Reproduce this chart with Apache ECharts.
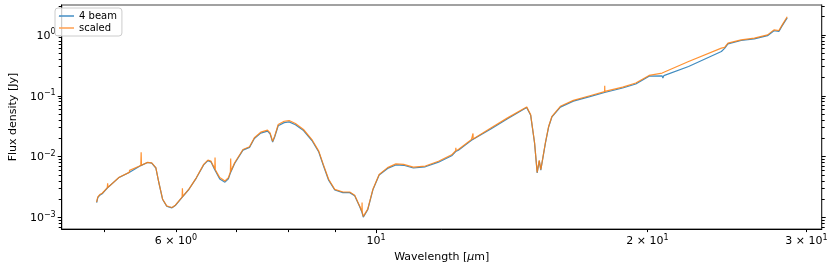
<!DOCTYPE html>
<html>
<head>
<meta charset="utf-8">
<script src="https://cdn.jsdelivr.net/npm/echarts@6/dist/echarts.min.js"></script>
<style>
  html, body { margin: 0; padding: 0; background: #fff; }
  #chart { width: 831px; height: 268px; }
</style>
</head>
<body>
<div id="chart"></div>
<script>
// Wavelength [micron]
const wave = [
  4.90, 4.915, 4.925, 4.94, 4.955, 4.97, 4.99, 5.035, 5.04, 5.045,
  5.19, 5.325, 5.33, 5.335, 5.485, 5.49, 5.495, 5.58, 5.64, 5.70,
  5.74, 5.80, 5.86, 5.90, 5.92, 5.94, 5.99, 6.095, 6.10, 6.105,
  6.20, 6.32, 6.44, 6.51, 6.56, 6.625, 6.63, 6.635, 6.71, 6.80,
  6.86, 6.895, 6.90, 6.905, 6.97, 7.12, 7.24, 7.33, 7.45, 7.58,
  7.63, 7.68, 7.72, 7.79, 7.91, 8.01, 8.14, 8.31, 8.49, 8.64,
  8.74, 8.86, 9.00, 9.19, 9.35, 9.47, 9.59, 9.645, 9.65, 9.655,
  9.68, 9.79, 9.92, 10.08, 10.30, 10.52, 10.73, 11.00, 11.34, 11.73,
  12.13, 12.255, 12.26, 12.265, 12.34, 12.76, 12.805, 12.81, 12.815, 13.42,
  13.99, 14.69, 14.84, 14.99, 15.09, 15.17, 15.23, 15.41, 15.54, 15.67,
  16.01, 16.55, 17.26, 17.925, 17.93, 17.935, 18.77, 19.41, 20.08, 20.76,
  20.80, 20.85, 22.21, 24.15, 24.25, 24.35, 24.56, 25.40, 26.27, 27.17,
  27.62, 27.97, 28.21, 28.57
];
// Flux density [Jy], "4 beam"
const fluxBeam = [
  0.00176, 0.00212, 0.00198, 0.00232, 0.00222, 0.00245, 0.00252, 0.00305, 0.00308, 0.00310,
  0.00455, 0.00548, 0.00550, 0.00553, 0.00712, 0.00714, 0.00718, 0.0080, 0.0078, 0.0065,
  0.0039, 0.00197, 0.00153, 0.00148, 0.00141, 0.00144, 0.00157, 0.00214, 0.00217, 0.00220,
  0.00288, 0.00444, 0.0073, 0.0086, 0.0082, 0.0061, 0.0060, 0.0059, 0.0043, 0.0038,
  0.0043, 0.0054, 0.0055, 0.0056, 0.0077, 0.0128, 0.0142, 0.0198, 0.0243, 0.0262,
  0.0237, 0.0173, 0.0210, 0.0322, 0.0362, 0.0372, 0.0334, 0.0268, 0.0184, 0.0119,
  0.0072, 0.0041, 0.00283, 0.00256, 0.00256, 0.00227, 0.00152, 0.00123, 0.00121, 0.00119,
  0.00101, 0.00134, 0.00284, 0.0050, 0.0064, 0.0073, 0.0072, 0.0065, 0.0068, 0.0081,
  0.0103, 0.0121, 0.0122, 0.0123, 0.0127, 0.0185, 0.0189, 0.0190, 0.0191, 0.0287,
  0.0420, 0.0640, 0.0480, 0.0166, 0.0054, 0.0085, 0.0060, 0.0166, 0.0310, 0.0450,
  0.0650, 0.0815, 0.0965, 0.113, 0.114, 0.114, 0.134, 0.156, 0.210, 0.212,
  0.195, 0.214, 0.303, 0.533, 0.500, 0.600, 0.710, 0.810, 0.860, 0.970,
  1.17, 1.14, 1.42, 1.90
];
// Flux density [Jy], "scaled"
const fluxScaled = [
  0.00178, 0.00218, 0.00204, 0.00238, 0.00228, 0.00250, 0.00258, 0.00307, 0.00364, 0.00312,
  0.00457, 0.00550, 0.00594, 0.00555, 0.00716, 0.0118, 0.00722, 0.00804, 0.00789, 0.00658,
  0.00393, 0.00199, 0.00155, 0.00150, 0.00143, 0.00146, 0.00159, 0.00216, 0.00302, 0.00222,
  0.00290, 0.00448, 0.00745, 0.00877, 0.00844, 0.0063, 0.0097, 0.0061, 0.00452, 0.00397,
  0.00452, 0.00560, 0.00935, 0.00580, 0.00794, 0.0131, 0.0145, 0.0204, 0.0252, 0.0272,
  0.0246, 0.0179, 0.0217, 0.0337, 0.0381, 0.0391, 0.0349, 0.0279, 0.0191, 0.0123,
  0.00745, 0.00424, 0.0029, 0.00262, 0.00262, 0.00232, 0.00155, 0.00125, 0.00176, 0.00121,
  0.00104, 0.00137, 0.0029, 0.0051, 0.0066, 0.0076, 0.00745, 0.0067, 0.0070, 0.0084,
  0.0107, 0.0125, 0.0140, 0.0126, 0.0131, 0.0191, 0.0194, 0.0240, 0.0195, 0.0297,
  0.0433, 0.0656, 0.0491, 0.0169, 0.0055, 0.0087, 0.0061, 0.0169, 0.0316, 0.0460,
  0.0671, 0.0841, 0.100, 0.117, 0.146, 0.118, 0.139, 0.162, 0.216, 0.236,
  0.238, 0.240, 0.366, 0.606, 0.615, 0.625, 0.731, 0.828, 0.883, 1.00,
  1.21, 1.18, 1.46, 1.99
];

const seriesNames = ['4 beam', 'scaled'];

// Axis ranges (data units)
const xRange = [4.482, 31.2];
const yRange = [0.000644, 3.10];

// Ticks (data units)
const xMajorTicks = [10];
const xMinorTicks = [5, 6, 7, 8, 9, 20, 30];
const xLabelValues = [6, 10, 20, 30];
const xLabelMantissa = ['6 × 10', '10', '2 × 10', '3 × 10'];
const xLabelExponent = ['0', '1', '1', '1'];

const yMajorTicks = [0.001, 0.01, 0.1, 1];
const yMinorTicks = [
  0.0007, 0.0008, 0.0009,
  0.002, 0.003, 0.004, 0.005, 0.006, 0.007, 0.008, 0.009,
  0.02, 0.03, 0.04, 0.05, 0.06, 0.07, 0.08, 0.09,
  0.2, 0.3, 0.4, 0.5, 0.6, 0.7, 0.8, 0.9,
  2, 3
];
const yLabelValues = [0.001, 0.01, 0.1, 1];
const yLabelExponent = ['−3', '−2', '−1', '0'];

const L = Math.log10;
const FONT = 'DejaVu Sans';

const rich = {
  b: { fontFamily: FONT, fontSize: 11, color: '#000', lineHeight: 13, verticalAlign: 'bottom' },
  s: { fontFamily: FONT, fontSize: 8, color: '#000', lineHeight: 9, verticalAlign: 'top' }
};

function labelFor(values, mant, expo) {
  return function (v) {
    for (let i = 0; i < values.length; i++) {
      if (Math.abs(L(values[i]) - v) < 1e-6) {
        return '{b|' + mant[i] + '}{s|' + expo[i] + '}';
      }
    }
    return '';
  };
}

const xMin = L(xRange[0]), xMax = L(xRange[1]);
const yMin = L(yRange[0]), yMax = L(yRange[1]);

function xAxisBase(extra) {
  return Object.assign({
    type: 'value', min: xMin, max: xMax, position: 'bottom',
    splitLine: { show: false },
    axisLine: { show: false, onZero: false },
    axisLabel: { show: false },
    axisTick: { show: false }
  }, extra);
}
function yAxisBase(extra) {
  return Object.assign({
    type: 'value', min: yMin, max: yMax,
    splitLine: { show: false },
    axisLine: { show: false, onZero: false },
    axisLabel: { show: false },
    axisTick: { show: false }
  }, extra);
}

const chart = echarts.init(document.getElementById('chart'), null, { renderer: 'canvas' });

const option = {
  animation: false,
  backgroundColor: '#fff',
  grid: {
    left: 51.5, right: 9.3, top: 5, bottom: 38,
    show: true, borderColor: '#444', borderWidth: 1.2, backgroundColor: 'transparent'
  },
  legend: {
    orient: 'vertical',
    left: 55, top: 8,
    data: seriesNames,
    icon: 'rect',
    padding: [3, 5, 3, 4],
    itemWidth: 15, itemHeight: 1.6, itemGap: 2,
    backgroundColor: 'rgba(255,255,255,0.8)',
    borderColor: '#cccccc', borderWidth: 1, borderRadius: 3,
    textStyle: { fontFamily: FONT, fontSize: 10, color: '#000' }
  },
  xAxis: [
    xAxisBase({
      name: 'Wavelength [{i|μ}m]',
      nameLocation: 'middle', nameGap: 20,
      nameTextStyle: {
        fontFamily: FONT, fontSize: 11, color: '#000',
        rich: { i: { fontFamily: FONT, fontSize: 11, fontStyle: 'italic', color: '#000' } }
      },
      axisLine: { show: true, onZero: false, lineStyle: { color: '#000', width: 1 } },
      axisTick: { show: true, inside: false, length: 4, customValues: xMajorTicks.map(L), lineStyle: { color: '#000' } },
      axisLabel: {
        show: true, margin: 5, customValues: xLabelValues.map(L),
        formatter: labelFor(xLabelValues, xLabelMantissa, xLabelExponent),
        rich: rich, hideOverlap: false
      }
    }),
    xAxisBase({
      axisTick: { show: true, inside: false, length: 3, customValues: xMinorTicks.map(L), lineStyle: { color: '#000' } }
    })
  ],
  yAxis: [
    yAxisBase({
      position: 'left',
      name: 'Flux density [Jy]',
      nameLocation: 'middle', nameGap: 36,
      nameTextStyle: { fontFamily: FONT, fontSize: 11, color: '#000' },
      axisLine: { show: true, onZero: false, lineStyle: { color: '#000', width: 1 } },
      axisTick: { show: true, inside: false, length: 4, customValues: yMajorTicks.map(L), lineStyle: { color: '#000' } },
      axisLabel: {
        show: true, margin: 6, customValues: yLabelValues.map(L),
        formatter: labelFor(yLabelValues, yLabelValues.map(() => '10'), yLabelExponent),
        rich: rich, hideOverlap: false
      }
    }),
    yAxisBase({
      position: 'left',
      axisTick: { show: true, inside: false, length: 3, customValues: yMinorTicks.map(L), lineStyle: { color: '#000' } }
    }),
    yAxisBase({
      position: 'right',
      axisLine: { show: true, onZero: false, lineStyle: { color: '#333', width: 1 } },
      axisTick: { show: true, inside: false, length: 4, customValues: yMajorTicks.map(L), lineStyle: { color: '#000' } }
    }),
    yAxisBase({
      position: 'right',
      axisTick: { show: true, inside: false, length: 3, customValues: yMinorTicks.map(L), lineStyle: { color: '#000' } }
    })
  ],
  series: [
    {
      name: seriesNames[0], type: 'line', xAxisIndex: 0, yAxisIndex: 0,
      symbol: 'none', showSymbol: false, sampling: null, z: 2,
      lineStyle: { color: '#1f77b4', width: 1.2, opacity: 0.85 },
      itemStyle: { color: '#4f95c8' },
      data: wave.map((w, i) => [L(w), L(fluxBeam[i])])
    },
    {
      name: seriesNames[1], type: 'line', xAxisIndex: 0, yAxisIndex: 0,
      symbol: 'none', showSymbol: false, sampling: null, z: 3,
      lineStyle: { color: '#ff7f0e', width: 1.2, opacity: 0.85 },
      itemStyle: { color: '#ffa55a' },
      data: wave.map((w, i) => [L(w), L(fluxScaled[i])])
    }
  ]
};

chart.setOption(option);
</script>
</body>
</html>
